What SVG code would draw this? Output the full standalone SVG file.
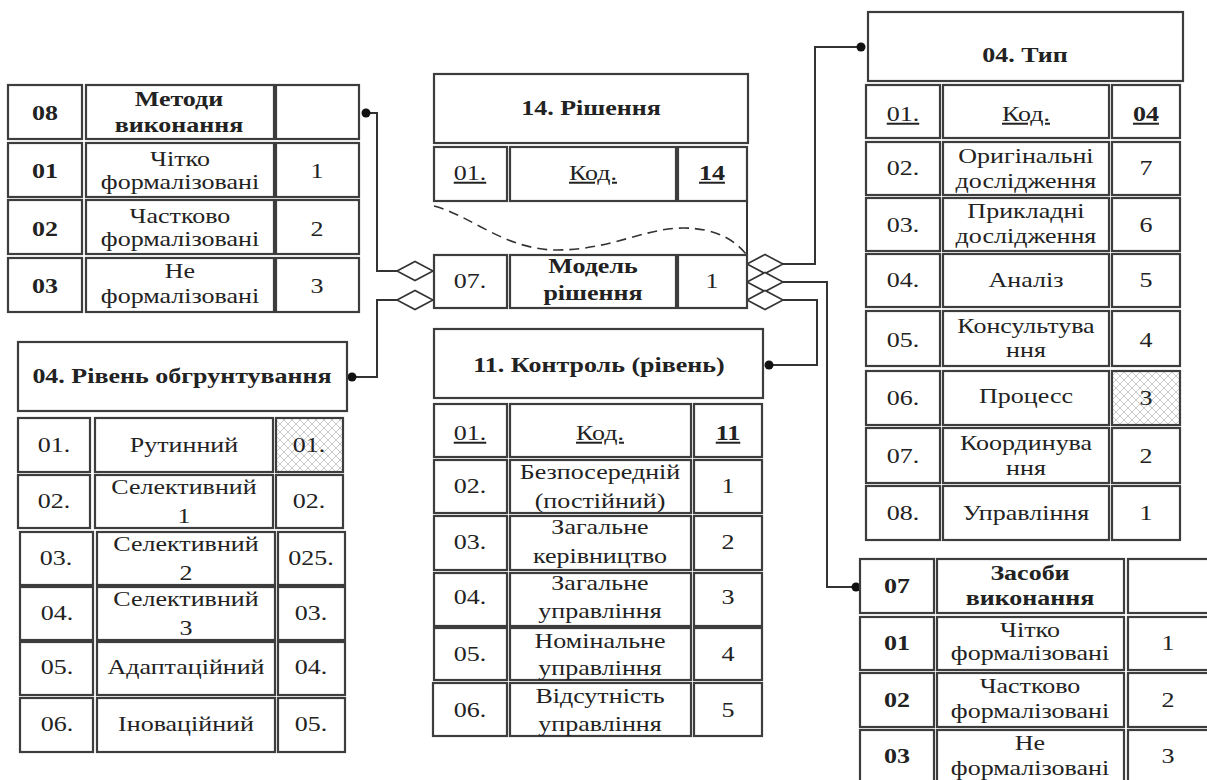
<svg xmlns="http://www.w3.org/2000/svg" width="1207" height="780" viewBox="0 0 1207 780">
<style>
.c{fill:#fff;stroke:#3d3d3d;stroke-width:2.2}
.h{fill:url(#hatch);stroke:#3d3d3d;stroke-width:2.2}
text{font-family:"Liberation Serif","Times New Roman",serif;font-size:20px;fill:#222;text-anchor:middle;transform-box:fill-box;transform-origin:center;transform:scaleX(1.3)}
.b{font-weight:bold}
.u{text-decoration:underline}
.ln{fill:none;stroke:#333;stroke-width:2}
.dm{fill:#fff;stroke:#333;stroke-width:1.6}
.dot{fill:#111}
.dash{fill:none;stroke:#333;stroke-width:1.6;stroke-dasharray:10 6}
</style>
<defs>
<pattern id="hatch" width="8" height="8" patternUnits="userSpaceOnUse">
<rect width="8" height="8" fill="#fff"/>
<path d="M0,0 L8,8 M8,0 L0,8" stroke="#bdbdbd" stroke-width="0.8"/>
</pattern>
</defs>
<rect width="1207" height="780" fill="#fff"/>

<g id="connectors">
<path class="ln" d="M366,113 H377 V271 H397"/>
<path class="ln" d="M352,377 H377 V300 H397"/>
<path class="ln" d="M783,264 H815 V47 H861"/>
<path class="ln" d="M783,282 H827 V587 H856"/>
<path class="ln" d="M783,300 H817 V365 H769"/>
<path class="ln" d="M747,201 V255"/>
<path class="dash" d="M434,206 C470,215 505,250 557,250 C610,250 645,228 683,228 C715,228 735,240 746,254"/>
<polygon class="dm" points="397,271 415,261.5 433,271 415,280.5"/>
<polygon class="dm" points="397,300 415,290.5 433,300 415,309.5"/>
<polygon class="dm" points="747,264 765,254.5 783,264 765,273.5"/>
<polygon class="dm" points="747,282 765,272.5 783,282 765,291.5"/>
<polygon class="dm" points="747,300 765,290.5 783,300 765,309.5"/>
<circle class="dot" cx="366" cy="113" r="4.5"/>
<circle class="dot" cx="352" cy="377" r="4.5"/>
<circle class="dot" cx="861" cy="47" r="4.5"/>
<circle class="dot" cx="856" cy="587" r="4.5"/>
<circle class="dot" cx="769" cy="365" r="4.5"/>
</g>

<g id="methods">
<rect class="c" x="8" y="85" width="74" height="54"/><rect class="c" x="86" y="85" width="188" height="54"/><rect class="c" x="276" y="85" width="83" height="54"/>
<rect class="c" x="8" y="143" width="74" height="54"/><rect class="c" x="86" y="143" width="188" height="54"/><rect class="c" x="276" y="143" width="83" height="54"/>
<rect class="c" x="8" y="200" width="74" height="54"/><rect class="c" x="86" y="200" width="188" height="54"/><rect class="c" x="276" y="200" width="83" height="54"/>
<rect class="c" x="8" y="258" width="74" height="54"/><rect class="c" x="86" y="258" width="188" height="54"/><rect class="c" x="276" y="258" width="83" height="54"/>
<text class="b" x="45" y="120">08</text>
<text class="b"><tspan x="179" y="106">Методи</tspan><tspan x="179" y="132">виконання</tspan></text>
<text class="b" x="45" y="178">01</text>
<text><tspan x="180" y="166">Чітко</tspan><tspan x="180" y="189">формалізовані</tspan></text>
<text x="317" y="178">1</text>
<text class="b" x="45" y="236">02</text>
<text><tspan x="180" y="223">Частково</tspan><tspan x="180" y="246">формалізовані</tspan></text>
<text x="317" y="236">2</text>
<text class="b" x="45" y="293">03</text>
<text><tspan x="180" y="278">Не</tspan><tspan x="180" y="303">формалізовані</tspan></text>
<text x="317" y="293">3</text>
</g>

<g id="riven">
<rect class="c" x="18" y="342" width="329" height="69"/>
<text class="b" x="182" y="383">04. Рівень обгрунтування</text>
<rect class="c" x="18" y="418" width="72" height="54"/><rect class="c" x="95" y="418" width="178" height="54"/><rect class="h" x="276" y="418" width="67" height="54"/>
<rect class="c" x="18" y="475" width="72" height="53"/><rect class="c" x="95" y="475" width="178" height="53"/><rect class="c" x="276" y="475" width="67" height="53"/>
<rect class="c" x="20" y="532" width="73" height="53"/><rect class="c" x="97" y="532" width="178" height="53"/><rect class="c" x="278" y="532" width="67" height="53"/>
<rect class="c" x="20" y="587" width="73" height="53"/><rect class="c" x="97" y="587" width="178" height="53"/><rect class="c" x="278" y="587" width="67" height="53"/>
<rect class="c" x="20" y="642" width="73" height="53"/><rect class="c" x="97" y="642" width="178" height="53"/><rect class="c" x="278" y="642" width="67" height="53"/>
<rect class="c" x="20" y="698" width="73" height="54"/><rect class="c" x="97" y="698" width="178" height="54"/><rect class="c" x="278" y="698" width="67" height="54"/>
<text x="54" y="452">01.</text><text x="184" y="452">Рутинний</text><text x="309" y="452">01.</text>
<text x="54" y="508">02.</text><text><tspan x="184" y="494">Селективний</tspan><tspan x="184" y="523">1</tspan></text><text x="309" y="508">02.</text>
<text x="56" y="565">03.</text><text><tspan x="186" y="551">Селективний</tspan><tspan x="186" y="580">2</tspan></text><text x="311" y="565">025.</text>
<text x="57" y="620">04.</text><text><tspan x="186" y="606">Селективний</tspan><tspan x="186" y="635">3</tspan></text><text x="311" y="620">03.</text>
<text x="57" y="674">05.</text><text x="186" y="674">Адаптаційний</text><text x="311" y="674">04.</text>
<text x="57" y="731">06.</text><text x="186" y="731">Іноваційний</text><text x="311" y="731">05.</text>
</g>

<g id="rishennia">
<rect class="c" x="434" y="74" width="314" height="69"/>
<text class="b" x="591" y="115">14. Рішення</text>
<rect class="c" x="434" y="147" width="73" height="54"/><rect class="c" x="510" y="147" width="166" height="54"/><rect class="c" x="678" y="147" width="69" height="54"/>
<text class="u" x="470" y="180">01.</text><text class="u" x="593" y="180">Код.</text><text class="b u" x="712" y="180">14</text>
</g>

<g id="model">
<rect class="c" x="434" y="255" width="73" height="53"/><rect class="c" x="510" y="255" width="166" height="53"/><rect class="c" x="678" y="255" width="69" height="53"/>
<text x="470" y="288">07.</text>
<text class="b"><tspan x="593" y="273">Модель</tspan><tspan x="593" y="300">рішення</tspan></text>
<text x="712" y="288">1</text>
</g>

<g id="kontrol">
<rect class="c" x="434" y="329" width="329" height="69"/>
<text class="b" x="599" y="372">11. Контроль (рівень)</text>
<rect class="c" x="434" y="404" width="73" height="53"/><rect class="c" x="510" y="404" width="181" height="53"/><rect class="c" x="694" y="404" width="68" height="53"/>
<rect class="c" x="434" y="460" width="73" height="53"/><rect class="c" x="510" y="460" width="181" height="53"/><rect class="c" x="694" y="460" width="68" height="53"/>
<rect class="c" x="434" y="516" width="73" height="54"/><rect class="c" x="510" y="516" width="181" height="54"/><rect class="c" x="694" y="516" width="68" height="54"/>
<rect class="c" x="434" y="573" width="73" height="53"/><rect class="c" x="510" y="573" width="181" height="53"/><rect class="c" x="694" y="573" width="68" height="53"/>
<rect class="c" x="434" y="628" width="73" height="52"/><rect class="c" x="510" y="628" width="181" height="52"/><rect class="c" x="694" y="628" width="68" height="52"/>
<rect class="c" x="433" y="683" width="74" height="53"/><rect class="c" x="510" y="683" width="181" height="53"/><rect class="c" x="694" y="683" width="68" height="53"/>
<text class="u" x="470" y="440">01.</text><text class="u" x="600" y="440">Код.</text><text class="b u" x="728" y="440">11</text>
<text x="470" y="493">02.</text><text><tspan x="600" y="479">Безпосередній</tspan><tspan x="600" y="508">(постійний)</tspan></text><text x="728" y="493">1</text>
<text x="470" y="549">03.</text><text><tspan x="600" y="534">Загальне</tspan><tspan x="600" y="563">керівництво</tspan></text><text x="728" y="549">2</text>
<text x="470" y="604">04.</text><text><tspan x="600" y="590">Загальне</tspan><tspan x="600" y="618">управління</tspan></text><text x="728" y="604">3</text>
<text x="470" y="661">05.</text><text><tspan x="600" y="648">Номінальне</tspan><tspan x="600" y="675">управління</tspan></text><text x="728" y="661">4</text>
<text x="470" y="717">06.</text><text><tspan x="600" y="703">Відсутність</tspan><tspan x="600" y="731">управління</tspan></text><text x="728" y="717">5</text>
</g>

<g id="typ">
<rect class="c" x="868" y="12" width="315" height="69"/>
<text class="b" x="1025" y="62">04. Тип</text>
<rect class="c" x="866" y="85" width="74" height="53"/><rect class="c" x="943" y="85" width="166" height="53"/><rect class="c" x="1112" y="85" width="68" height="53"/>
<rect class="c" x="866" y="142" width="74" height="53"/><rect class="c" x="943" y="142" width="166" height="53"/><rect class="c" x="1112" y="142" width="68" height="53"/>
<rect class="c" x="866" y="198" width="74" height="53"/><rect class="c" x="943" y="198" width="166" height="53"/><rect class="c" x="1112" y="198" width="68" height="53"/>
<rect class="c" x="866" y="254" width="74" height="53"/><rect class="c" x="943" y="254" width="166" height="53"/><rect class="c" x="1112" y="254" width="68" height="53"/>
<rect class="c" x="866" y="311" width="74" height="55"/><rect class="c" x="943" y="311" width="166" height="55"/><rect class="c" x="1112" y="311" width="68" height="55"/>
<rect class="c" x="866" y="371" width="74" height="54"/><rect class="c" x="943" y="371" width="166" height="54"/><rect class="h" x="1112" y="371" width="68" height="54"/>
<rect class="c" x="866" y="428" width="74" height="55"/><rect class="c" x="943" y="428" width="166" height="55"/><rect class="c" x="1112" y="428" width="68" height="55"/>
<rect class="c" x="866" y="486" width="74" height="54"/><rect class="c" x="943" y="486" width="166" height="54"/><rect class="c" x="1112" y="486" width="68" height="54"/>
<text class="u" x="903" y="121">01.</text><text class="u" x="1026" y="121">Код.</text><text class="b u" x="1146" y="121">04</text>
<text x="903" y="175">02.</text><text><tspan x="1026" y="163">Оригінальні</tspan><tspan x="1026" y="188">дослідження</tspan></text><text x="1146" y="175">7</text>
<text x="903" y="232">03.</text><text><tspan x="1026" y="218">Прикладні</tspan><tspan x="1026" y="243">дослідження</tspan></text><text x="1146" y="232">6</text>
<text x="903" y="287">04.</text><text x="1026" y="287">Аналіз</text><text x="1146" y="287">5</text>
<text x="903" y="347">05.</text><text><tspan x="1026" y="333">Консультува</tspan><tspan x="1026" y="357">ння</tspan></text><text x="1146" y="347">4</text>
<text x="903" y="405">06.</text><text x="1026" y="403">Процесс</text><text x="1146" y="405">3</text>
<text x="903" y="463">07.</text><text><tspan x="1026" y="450">Координува</tspan><tspan x="1026" y="475">ння</tspan></text><text x="1146" y="463">2</text>
<text x="903" y="520">08.</text><text x="1026" y="520">Управління</text><text x="1146" y="520">1</text>
</g>

<g id="zasoby">
<rect class="c" x="860" y="559" width="74" height="54"/><rect class="c" x="937" y="559" width="187" height="54"/><rect class="c" x="1128" y="559" width="82" height="54"/>
<rect class="c" x="860" y="617" width="74" height="53"/><rect class="c" x="937" y="617" width="187" height="53"/><rect class="c" x="1128" y="617" width="82" height="53"/>
<rect class="c" x="860" y="673" width="74" height="54"/><rect class="c" x="937" y="673" width="187" height="54"/><rect class="c" x="1128" y="673" width="82" height="54"/>
<rect class="c" x="860" y="730" width="74" height="54"/><rect class="c" x="937" y="730" width="187" height="54"/><rect class="c" x="1128" y="730" width="82" height="54"/>
<text class="b" x="897" y="593">07</text>
<text class="b"><tspan x="1030" y="580">Засоби</tspan><tspan x="1030" y="605">виконання</tspan></text>
<text class="b" x="897" y="650">01</text>
<text><tspan x="1030" y="637">Чітко</tspan><tspan x="1030" y="660">формалізовані</tspan></text>
<text x="1168" y="650">1</text>
<text class="b" x="897" y="707">02</text>
<text><tspan x="1030" y="693">Частково</tspan><tspan x="1030" y="718">формалізовані</tspan></text>
<text x="1168" y="707">2</text>
<text class="b" x="897" y="763">03</text>
<text><tspan x="1030" y="750">Не</tspan><tspan x="1030" y="775">формалізовані</tspan></text>
<text x="1168" y="763">3</text>
</g>
</svg>
